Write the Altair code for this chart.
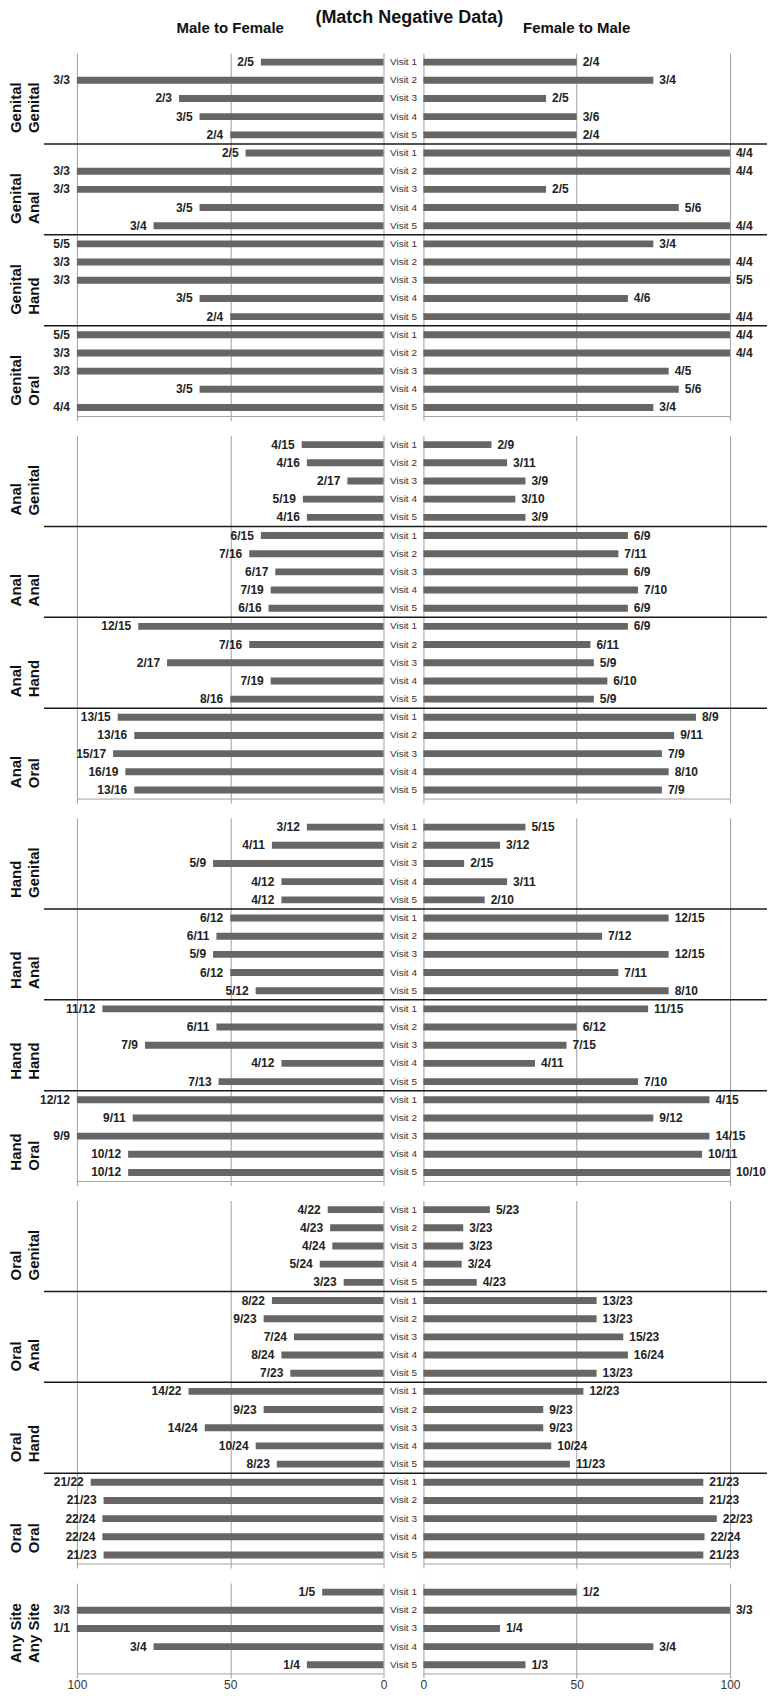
import altair as alt
import pandas as pd

FONT = "Liberation Sans, Arial, Helvetica, sans-serif"
BAR = "#666666"
GRID = "#a0a0a0"

SITES = ["Genital", "Anal", "Hand", "Oral"]
VISITS = ["Visit 1", "Visit 2", "Visit 3", "Visit 4", "Visit 5"]
HEADERS = ["Male to Female", "Female to Male"]
TITLE = "(Match Negative Data)"

# bar lengths (percent) and printed fractions, 4 target sites x 5 visits per source site
genital_mtf_pct = [40, 100, 66.7, 60, 50,
                   45, 100, 100, 60, 75,
                   100, 100, 100, 60, 50,
                   100, 100, 100, 60, 100]
genital_mtf_lbl = ["2/5", "3/3", "2/3", "3/5", "2/4",
                   "2/5", "3/3", "3/3", "3/5", "3/4",
                   "5/5", "3/3", "3/3", "3/5", "2/4",
                   "5/5", "3/3", "3/3", "3/5", "4/4"]
genital_ftm_pct = [50, 75, 40, 50, 50,
                   100, 100, 40, 83.3, 100,
                   75, 100, 100, 66.7, 100,
                   100, 100, 80, 83.3, 75]
genital_ftm_lbl = ["2/4", "3/4", "2/5", "3/6", "2/4",
                   "4/4", "4/4", "2/5", "5/6", "4/4",
                   "3/4", "4/4", "5/5", "4/6", "4/4",
                   "4/4", "4/4", "4/5", "5/6", "3/4"]

anal_mtf_pct = [26.7, 25, 11.8, 26.3, 25,
                40, 43.8, 35.3, 36.8, 37.5,
                80, 43.8, 70.6, 36.8, 50,
                86.7, 81.3, 88.2, 84.2, 81.3]
anal_mtf_lbl = ["4/15", "4/16", "2/17", "5/19", "4/16",
                "6/15", "7/16", "6/17", "7/19", "6/16",
                "12/15", "7/16", "2/17", "7/19", "8/16",
                "13/15", "13/16", "15/17", "16/19", "13/16"]
anal_ftm_pct = [22.2, 27.3, 33.3, 30, 33.3,
                66.7, 63.6, 66.7, 70, 66.7,
                66.7, 54.5, 55.6, 60, 55.6,
                88.9, 81.8, 77.8, 80, 77.8]
anal_ftm_lbl = ["2/9", "3/11", "3/9", "3/10", "3/9",
                "6/9", "7/11", "6/9", "7/10", "6/9",
                "6/9", "6/11", "5/9", "6/10", "5/9",
                "8/9", "9/11", "7/9", "8/10", "7/9"]

hand_mtf_pct = [25, 36.4, 55.6, 33.3, 33.3,
                50, 54.5, 55.6, 50, 41.7,
                91.7, 54.5, 77.8, 33.3, 53.8,
                100, 81.8, 100, 83.3, 83.3]
hand_mtf_lbl = ["3/12", "4/11", "5/9", "4/12", "4/12",
                "6/12", "6/11", "5/9", "6/12", "5/12",
                "11/12", "6/11", "7/9", "4/12", "7/13",
                "12/12", "9/11", "9/9", "10/12", "10/12"]
hand_ftm_pct = [33.3, 25, 13.3, 27.3, 20,
                80, 58.3, 80, 63.6, 80,
                73.3, 50, 46.7, 36.4, 70,
                93.3, 75, 93.3, 90.9, 100]
hand_ftm_lbl = ["5/15", "3/12", "2/15", "3/11", "2/10",
                "12/15", "7/12", "12/15", "7/11", "8/10",
                "11/15", "6/12", "7/15", "4/11", "7/10",
                "4/15", "9/12", "14/15", "10/11", "10/10"]

oral_mtf_pct = [18.2, 17.4, 16.7, 20.8, 13,
                36.4, 39.1, 29.2, 33.3, 30.4,
                63.6, 39.1, 58.3, 41.7, 34.8,
                95.5, 91.3, 91.7, 91.7, 91.3]
oral_mtf_lbl = ["4/22", "4/23", "4/24", "5/24", "3/23",
                "8/22", "9/23", "7/24", "8/24", "7/23",
                "14/22", "9/23", "14/24", "10/24", "8/23",
                "21/22", "21/23", "22/24", "22/24", "21/23"]
oral_ftm_pct = [21.7, 13, 13, 12.5, 17.4,
                56.5, 56.5, 65.2, 66.7, 56.5,
                52.2, 39.1, 39.1, 41.7, 47.8,
                91.3, 91.3, 95.7, 91.7, 91.3]
oral_ftm_lbl = ["5/23", "3/23", "3/23", "3/24", "4/23",
                "13/23", "13/23", "15/23", "16/24", "13/23",
                "12/23", "9/23", "9/23", "10/24", "11/23",
                "21/23", "21/23", "22/23", "22/24", "21/23"]

any_mtf_pct = [20, 100, 100, 75, 25]
any_mtf_lbl = ["1/5", "3/3", "1/1", "3/4", "1/4"]
any_ftm_pct = [50, 100, 25, 75, 33.3]
any_ftm_lbl = ["1/2", "3/3", "1/4", "3/4", "1/3"]

# ---- layout constants (scale units) ----
G = 6.5                 # half gap between the two panels (in percent units)
W = 760                 # plot width in px
K = 3.07                # px per percent unit
XMIN = -128.98
XMAX = XMIN + W / K
ROW_PX = 18.2
TICKS = [-G - 100, -G - 50, -G, G, G + 50, G + 100]
ROWLAB_X = XMIN + 8 / K
SEP_X = XMIN + 36 / K


def group_frame(site1, targets, mtf, mtf_l, ftm, ftm_l):
    rows = []
    for k, t in enumerate(targets):
        for j, v in enumerate(VISITS):
            i = k * 5 + j
            rows.append(dict(row=i, block=k, site1=site1, site2=t, visit=v,
                             mtf=mtf[i], mtf_lbl=mtf_l[i],
                             ftm=ftm[i], ftm_lbl=ftm_l[i]))
    return pd.DataFrame(rows)


def make_group(df, show_labels=False, top=False):
    n = len(df)
    nb = n // 5
    H = round(n * ROW_PX)
    xs = alt.Scale(domain=[XMIN, XMAX], nice=False, zero=False)
    ys = alt.Scale(domain=[-0.5, n - 0.5], reverse=True, nice=False, zero=False)
    xaxis = alt.Axis(values=TICKS, grid=True, gridColor=GRID, gridWidth=1,
                     domain=False, ticks=True, tickSize=4, tickColor=GRID,
                     labels=show_labels,
                     labelExpr=f"format(abs(datum.value) - {G}, 'd')",
                     labelFontSize=12, labelColor="#333", labelPadding=2,
                     labelFont=FONT, title=None)

    def X(f):
        return alt.X(f, type="quantitative", scale=xs, axis=xaxis)

    def Y(f):
        return alt.Y(f, type="quantitative", scale=ys, axis=None)

    base = alt.Chart(df)
    bars_l = base.transform_calculate(
        xa=f"-{G} - datum.mtf", xb=f"-{G}", ya="datum.row - 0.19", yb="datum.row + 0.19"
    ).mark_rect(color=BAR).encode(x=X("xa"), x2=alt.X2("xb"), y=Y("ya"), y2=alt.Y2("yb"))
    bars_r = base.transform_calculate(
        xa=f"{G}", xb=f"{G} + datum.ftm", ya="datum.row - 0.19", yb="datum.row + 0.19"
    ).mark_rect(color=BAR).encode(x=X("xa"), x2=alt.X2("xb"), y=Y("ya"), y2=alt.Y2("yb"))

    lab_l = base.transform_calculate(xa=f"-{G} - datum.mtf").mark_text(
        align="right", baseline="middle", dx=-7, font=FONT, fontSize=12,
        fontWeight="bold", color="#222"
    ).encode(x=X("xa"), y=Y("row"), text="mtf_lbl:N")
    lab_r = base.transform_calculate(xa=f"{G} + datum.ftm").mark_text(
        align="left", baseline="middle", dx=6, font=FONT, fontSize=12,
        fontWeight="bold", color="#222"
    ).encode(x=X("xa"), y=Y("row"), text="ftm_lbl:N")

    visits = base.transform_calculate(xa="0").mark_text(
        align="center", baseline="middle", font=FONT, fontSize=10, color="#333"
    ).encode(x=X("xa"), y=Y("row"), text="visit:N")

    blocks = df.drop_duplicates("block")[["block", "site1", "site2"]]
    rowlab = alt.Chart(blocks).transform_calculate(
        xa=f"{ROWLAB_X}", ya="datum.block * 5 + 3.9", lbl="[datum.site1, datum.site2]"
    ).mark_text(angle=270, align="left", baseline="middle", font=FONT,
                fontSize=15, fontWeight="bold", lineHeight=18, color="#111"
    ).encode(x=X("xa"), y=Y("ya"), text="lbl:N")

    layers = [bars_l, bars_r, lab_l, lab_r, visits, rowlab]

    if nb > 1:
        seps = alt.Chart(blocks[blocks.block > 0]).transform_calculate(
            xa=f"{SEP_X}", xb=f"{XMAX}", ya="datum.block * 5 - 0.5"
        ).mark_rule(color="#1a1a1a", strokeWidth=1.5).encode(
            x=X("xa"), x2=alt.X2("xb"), y=Y("ya"))
        layers.append(seps)

    base_df = pd.DataFrame({"side": [-1, 1]})
    baseline = alt.Chart(base_df).transform_calculate(
        xa=f"datum.side * {G}", xb=f"datum.side * ({G} + 100)", ya=f"{n - 0.5}"
    ).mark_rule(color=GRID, strokeWidth=1).encode(x=X("xa"), x2=alt.X2("xb"), y=Y("ya"))
    layers.append(baseline)

    if top:
        hdr = alt.Chart(pd.DataFrame({"side": [-1, 1], "txt": HEADERS})).transform_calculate(
            xa=f"datum.side * ({G} + 50)", ya="-1.874"
        ).mark_text(align="center", baseline="middle", font=FONT, fontSize=15,
                    fontWeight="bold", color="#111"
        ).encode(x=X("xa"), y=Y("ya"), text="txt:N")
        ttl = alt.Chart(pd.DataFrame({"txt": [TITLE]})).transform_calculate(
            xa="1.9", ya="-2.423"
        ).mark_text(align="center", baseline="middle", font=FONT, fontSize=18,
                    fontWeight="bold", color="#111"
        ).encode(x=X("xa"), y=Y("ya"), text="txt:N")
        layers += [hdr, ttl]

    return alt.layer(*layers).properties(width=W, height=H)


g_gen = group_frame("Genital", SITES, genital_mtf_pct, genital_mtf_lbl, genital_ftm_pct, genital_ftm_lbl)
g_anal = group_frame("Anal", SITES, anal_mtf_pct, anal_mtf_lbl, anal_ftm_pct, anal_ftm_lbl)
g_hand = group_frame("Hand", SITES, hand_mtf_pct, hand_mtf_lbl, hand_ftm_pct, hand_ftm_lbl)
g_oral = group_frame("Oral", SITES, oral_mtf_pct, oral_mtf_lbl, oral_ftm_pct, oral_ftm_lbl)
g_any = group_frame("Any Site", ["Any Site"], any_mtf_pct, any_mtf_lbl, any_ftm_pct, any_ftm_lbl)

chart = alt.vconcat(
    make_group(g_gen, top=True),
    make_group(g_anal),
    make_group(g_hand),
    make_group(g_oral),
    make_group(g_any, show_labels=True),
    spacing=14,
    padding=0,
).configure(font=FONT).configure_view(stroke=None)

chart.save("out.html", embed_options={"renderer": "svg", "actions": False})
